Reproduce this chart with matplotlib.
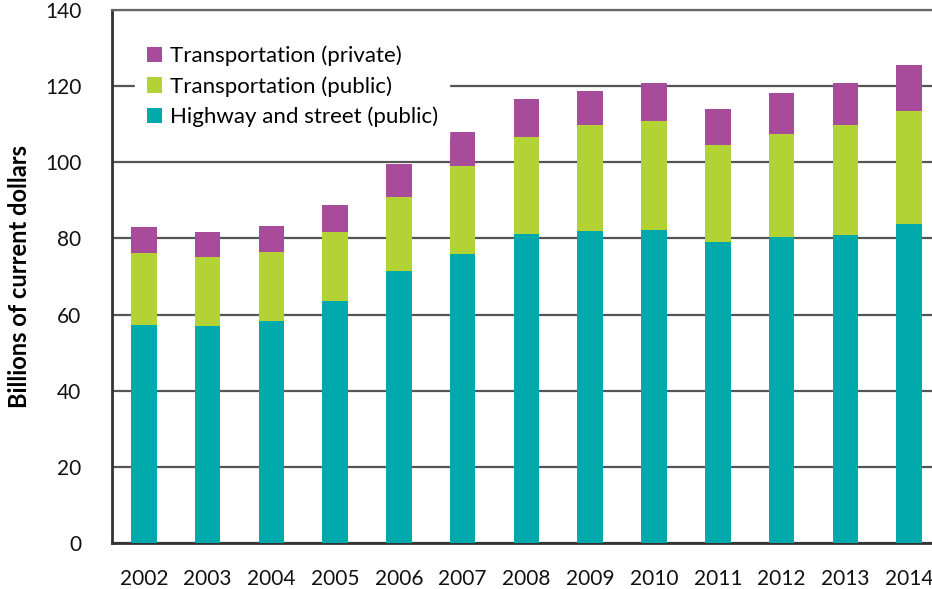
import matplotlib
matplotlib.use('Agg')
import matplotlib.pyplot as plt
import numpy as np

years = ['2002', '2003', '2004', '2005', '2006', '2007', '2008',
         '2009', '2010', '2011', '2012', '2013', '2014']
# values, billions of current dollars
highway = [57.2, 57.0, 58.2, 63.7, 71.5, 76.0, 81.2, 82.0, 82.2, 79.1, 80.3, 80.9, 83.7]
transport_public = [19.0, 18.1, 18.3, 17.9, 19.3, 23.0, 25.4, 27.7, 28.6, 25.4, 27.1, 28.8, 29.9]
transport_private = [6.8, 6.5, 6.8, 7.1, 8.7, 9.0, 10.0, 9.0, 9.9, 9.4, 10.8, 11.0, 12.0]

C_HIGHWAY = '#00A9AC'
C_PUBLIC = '#B3D334'
C_PRIVATE = '#A84B9A'

plt.rcParams['font.family'] = ['Lato', 'DejaVu Sans']

fig = plt.figure(figsize=(9.32, 5.89), dpi=100)
ax = fig.add_axes([0.1202, 0.078, 0.8798, 0.905])

x = np.arange(len(years))
w = 0.4
b1 = ax.bar(x, highway, w, color=C_HIGHWAY, label='Highway and street (public)', zorder=3)
b2 = ax.bar(x, transport_public, w, bottom=highway, color=C_PUBLIC,
            label='Transportation (public)', zorder=3)
bottom2 = np.array(highway) + np.array(transport_public)
b3 = ax.bar(x, transport_private, w, bottom=bottom2, color=C_PRIVATE,
            label='Transportation (private)', zorder=3)

ax.set_xlim(-0.5, 12.36)
ax.set_ylim(0, 140)
ax.set_yticks(range(0, 141, 20))
ax.set_xticks(x)
ax.set_xticklabels(years)
ax.tick_params(axis='both', length=0, labelsize=15, colors='#111111')
ax.tick_params(axis='y', pad=22)
ax.tick_params(axis='x', pad=19)

ax.yaxis.grid(True, color='#555555', linewidth=1.6, zorder=0)
ax.set_axisbelow(True)

ax.spines['right'].set_visible(False)
ax.spines['top'].set_color('#666666')
ax.spines['top'].set_linewidth(1.6)
ax.spines['left'].set_color('#333333')
ax.spines['left'].set_linewidth(2)
ax.spines['bottom'].set_color('#333333')
ax.spines['bottom'].set_linewidth(2)

ax.set_ylabel('Billions of current dollars', fontsize=17, fontweight='bold', labelpad=10)

leg = ax.legend(handles=[b3, b2, b1], loc='upper left', bbox_to_anchor=(0.015, 0.975),
                fontsize=16, frameon=True, fancybox=False, edgecolor='white',
                facecolor='white', framealpha=1, handlelength=0.7, handleheight=0.7,
                handletextpad=0.35, labelspacing=0.45, borderpad=0.5)
leg.set_zorder(5)

fig.savefig('out.png', dpi=100)
